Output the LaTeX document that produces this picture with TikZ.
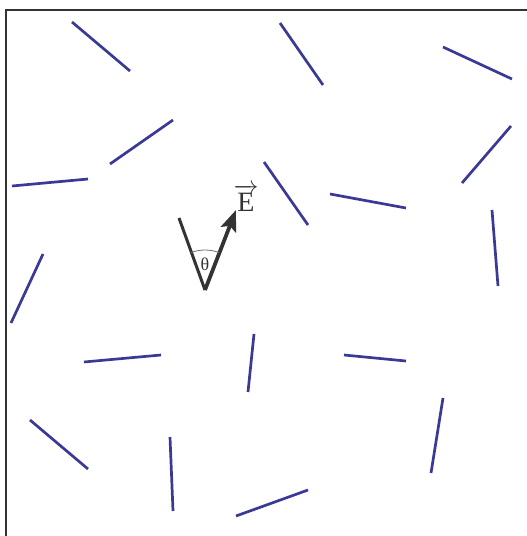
\documentclass[tikz,border=0pt]{standalone}
\usepackage{fontspec}
\setmainfont{Liberation Serif}
\definecolor{rodblue}{HTML}{3A3A96}
\definecolor{darkline}{HTML}{333333}
\usetikzlibrary{arrows.meta}

\begin{document}
\begin{tikzpicture}[x=1pt, y=1pt, >=Latex,
    rod/.style={rodblue, line width=2.7pt},
    frame/.style={darkline, line width=2.8pt}]
      \useasboundingbox (0,0) rectangle (527,-536);
      % Box
      \draw[frame] (6,-536) -- (6,-10) -- (527,-10);
      % Molecules
      \draw[rod] (72,-22) -- (130,-71);
      \draw[rod] (280,-23) -- (323,-85);
      \draw[rod] (443,-47) -- (512,-79);
      \draw[rod] (173,-120) -- (110,-164);
      \draw[rod] (12,-186) -- (88,-179);
      \draw[rod] (511,-126) -- (462,-183);
      \draw[rod] (264,-162) -- (308,-225);
      \draw[rod] (330,-194) -- (406,-208);
      \draw[rod] (492,-210) -- (498,-286);
      \draw[rod] (43,-254) -- (11,-323);
      \draw[rod] (84,-362) -- (161,-355);
      \draw[rod] (254,-334) -- (248,-392);
      \draw[rod] (344,-355) -- (406,-361);
      \draw[rod] (30,-420) -- (88,-469);
      \draw[rod] (443,-398) -- (431,-473);
      \draw[rod] (170,-437) -- (173,-511);
      \draw[rod] (236,-516) -- (308,-490);
      % Dipole
      \coordinate (apex) at (205,-290);
      \coordinate (axis) at (179,-218);
      \coordinate (tip) at (236,-210);
      \draw[darkline, line width=3pt] (apex) -- (axis);
      \draw[darkline, line width=3.8pt,
            -{Stealth[length=21pt, width=16pt, inset=4pt]}] (apex) -- (tip);
      % Angle
      \draw[darkline!70, line width=0.8pt] (apex) ++(110.6:40)
        arc[start angle=110.6, end angle=69, radius=40];
      \node[darkline, font=\fontsize{18}{20}\selectfont] (theta)
        at (205,-264) {θ};
      % Label
      \node[darkline, font=\fontsize{28}{32}\selectfont] (field)
        at (246,-198) {$\overrightarrow{\textrm{E}}$};
    \end{tikzpicture}
\end{document}
